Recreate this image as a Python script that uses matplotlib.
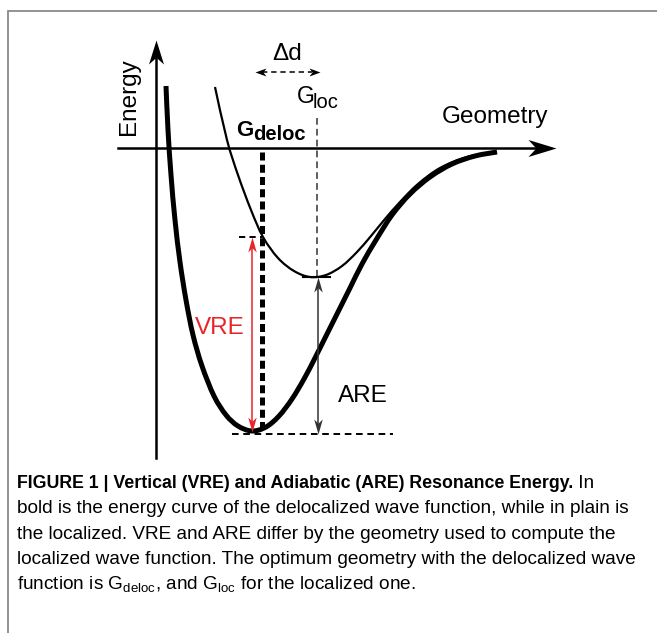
import numpy as np
import matplotlib
matplotlib.use("Agg")
import matplotlib.pyplot as plt
from matplotlib.patches import PathPatch
from matplotlib.path import Path
from matplotlib.markers import MarkerStyle
from matplotlib.transforms import Affine2D

plt.rcParams['font.family'] = ['Liberation Sans', 'DejaVu Sans']
plt.rcParams['mathtext.default'] = 'regular'

# ---- data (schematic, in image units) ----
# delocalized (bold) energy curve
deloc_x = [166, 168, 171, 175, 180, 186, 193, 202, 214, 226, 238, 252, 266, 279, 292,
           304, 315, 326, 338, 350, 362, 376, 392, 410, 430, 452, 475, 497]
deloc_y = [86, 130, 175, 220, 262, 300, 335, 366, 396, 415, 426, 431, 427, 416, 399,
           379, 358, 336, 312, 288, 264, 240, 215, 194, 177, 164, 156, 152]
# localized (plain) energy curve
loc_x = [215, 227, 238, 251, 263, 278, 294, 310, 326, 342, 357, 371, 385, 400, 418,
         440, 467, 497]
loc_y = [87, 140, 175, 210, 237, 258, 271, 277, 275, 266, 252, 236, 219, 202, 184,
         168, 157, 152]

g_deloc = 262          # optimum geometry, delocalized
g_loc = 317            # optimum geometry, localized
e_deloc_min = 433      # minimum of delocalized curve
e_loc_min = 277        # minimum of localized curve
e_loc_at_gdeloc = 237  # localized energy at G_deloc
vre_x = 252
axis_origin = (156, 148)

caption_title = "FIGURE 1 | Vertical (VRE) and Adiabatic (ARE) Resonance Energy."
caption_lines = [
    "bold is the energy curve of the delocalized wave function, while in plain is",
    "the localized. VRE and ARE differ by the geometry used to compute the",
    "localized wave function. The optimum geometry with the delocalized wave",
    "function is G$_{deloc}$, and G$_{loc}$ for the localized one.",
]

W, H = 657, 633
PT = 0.72  # points per pixel at 100 dpi
fig = plt.figure(figsize=(W / 100, H / 100), dpi=100)
ax = fig.add_axes([0, 0, 1, 1])
ax.set_xlim(0, W)
ax.set_ylim(H, 0)
ax.axis('off')


def smooth_curve(xs, ys, lw):
    """Draw a smooth curve passing through the read points (Catmull-Rom Beziers)."""
    p = np.column_stack([xs, ys]).astype(float)
    ext = np.vstack([p[0], p, p[-1]])
    verts = [p[0]]
    codes = [Path.MOVETO]
    for i in range(1, len(ext) - 2):
        p0, p1, p2, p3 = ext[i - 1], ext[i], ext[i + 1], ext[i + 2]
        verts += [p1 + (p2 - p0) / 6, p2 - (p3 - p1) / 6, p2]
        codes += [Path.CURVE4] * 3
    ax.add_patch(PathPatch(Path(verts, codes), fill=False, lw=lw, ec='black',
                           joinstyle='round', capstyle='butt'))


def head(x, y, angle, length, width, color):
    """Stealth-style arrow head whose tip is at (x, y); sizes in pixels."""
    L, Wd = 1.0, width / length
    path = Path([(0, 0), (-L, Wd / 2), (-0.72 * L, 0), (-L, -Wd / 2), (0, 0)],
                [Path.MOVETO, Path.LINETO, Path.LINETO, Path.LINETO, Path.CLOSEPOLY])
    m = MarkerStyle(path, transform=Affine2D().rotate_deg(angle))
    ax.plot([x], [y], marker=m, markersize=2 * length * PT, color=color,
            markeredgewidth=0, linestyle='none')


# frame
ax.plot([8, 8, W], [H, 11, 11], color='#8a8a8a', lw=1.3, solid_joinstyle='miter')

# axes with arrows
ax.plot([118, 540], [axis_origin[1]] * 2, color='black', lw=1.8)
head(556, axis_origin[1], 0, 28, 17, 'black')
ax.plot([axis_origin[0]] * 2, [458, 55], color='black', lw=1.8)
head(axis_origin[0], 40, 90, 24, 15, 'black')

# curves
smooth_curve(loc_x, loc_y, 1.6)
smooth_curve(deloc_x, deloc_y, 3.6)

# G_deloc dotted marker
ax.plot([g_deloc, g_deloc], [152, 428], color='black', lw=3.6,
        dashes=(1.6, 0.85), solid_capstyle='butt')
# G_loc dashed marker
ax.plot([g_loc, g_loc], [118, e_loc_min], color='#333333', lw=1.1, dashes=(4.4, 2.7))
# minimum of localized curve
ax.plot([303, 330], [e_loc_min, e_loc_min], color='black', lw=1.5)
# horizontal dashed reference lines
ax.plot([239, g_deloc], [e_loc_at_gdeloc, e_loc_at_gdeloc], color='black', lw=1.4,
        dashes=(3.2, 2.2))
ax.plot([232, 393], [e_deloc_min + 1, e_deloc_min + 1], color='black', lw=1.4,
        dashes=(3.4, 2.4))

# VRE arrow
red = '#e8262a'
ax.plot([vre_x, vre_x], [e_loc_at_gdeloc + 8, e_deloc_min - 9], color=red, lw=1.1)
head(vre_x, e_loc_at_gdeloc, 90, 15, 8.5, red)
head(vre_x, e_deloc_min - 1, -90, 15, 8.5, red)
# ARE arrow
gray = '#333333'
ax.plot([g_loc + 1, g_loc + 1], [e_loc_min + 8, e_deloc_min - 8], color=gray, lw=1.1)
head(g_loc + 1, e_loc_min, 90, 15, 8.5, gray)
head(g_loc + 1, e_deloc_min + 1, -90, 15, 8.5, gray)
# delta d arrow (dashed)
ax.plot([262, 312], [72, 72], color='black', lw=1.1, dashes=(3.5, 2.5))
head(255, 72, 180, 11, 8, 'black')
head(320, 72, 0, 11, 8, 'black')

# labels
ax.text(129, 97, "Energy", rotation=90, fontsize=17.5, ha='center', va='center')
ax.text(442, 123, "Geometry", fontsize=17.5, ha='left', va='baseline')
ax.text(272, 59.5, "\u0394d", fontsize=17.5, ha='left', va='baseline')
ax.text(297, 103, "G", fontsize=16.5, ha='left', va='baseline')
ax.text(312.5, 108, "loc", fontsize=14.5, ha='left', va='baseline')
ax.text(236, 136, "G", fontsize=16, fontweight='bold', ha='left', va='baseline')
ax.text(253, 139.5, "deloc", fontsize=14.5, fontweight='bold', ha='left', va='baseline')
ax.text(195, 333.5, "VRE", fontsize=17.5, color=red, ha='left', va='baseline')
ax.text(338, 401.5, "ARE", fontsize=17.5, ha='left', va='baseline')

# caption
cap_fs = 13.7
t1 = ax.text(17, 488, caption_title, fontsize=12.8, fontweight='bold',
             ha='left', va='baseline')
ax.annotate(" In", xy=(1, 0), xycoords=t1, fontsize=cap_fs, ha='left', va='bottom')
for i, line in enumerate(caption_lines):
    ax.text(17, 513.3 + i * 25.3, line, fontsize=cap_fs, ha='left', va='baseline')

fig.savefig("out.png", dpi=100)
